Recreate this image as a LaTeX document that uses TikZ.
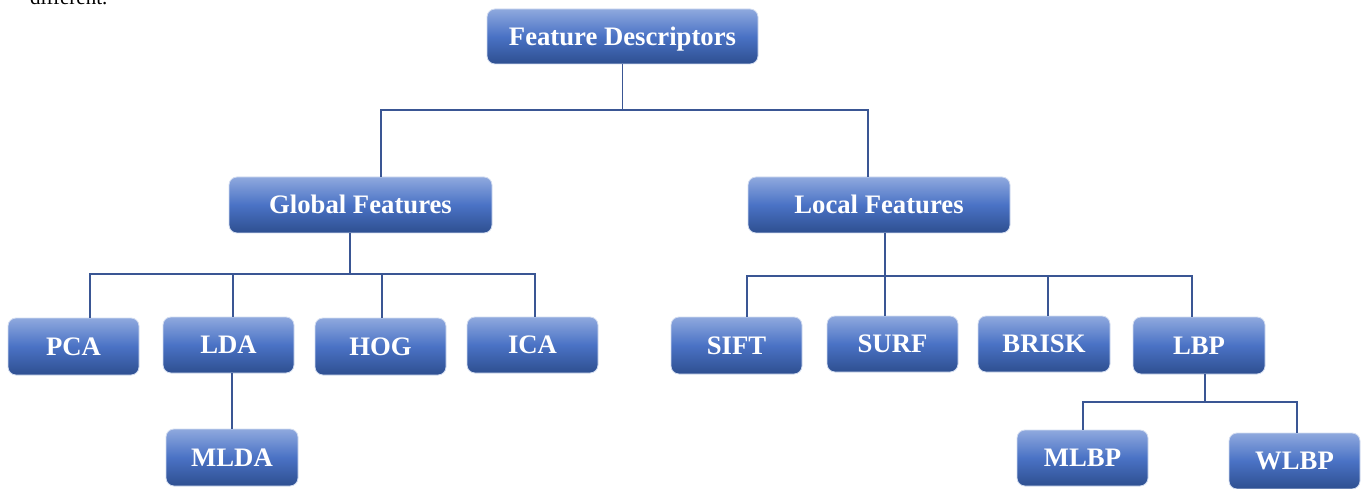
\documentclass[tikz,border=0pt]{standalone}
\usepackage{fontspec}
\setmainfont{Liberation Serif}
\begin{document}
\begin{tikzpicture}[x=1pt,y=-1pt,
  box/.style={rounded corners=8pt, draw=boxedge, line width=0.8pt,
    top color=boxtop, bottom color=boxbot, middle color=boxmid,
    minimum width=131pt, minimum height=56pt, inner sep=0pt,
    text=white, font=\fontsize{26.7}{31}\selectfont\bfseries,
    text height=17.6pt, text depth=0pt, anchor=center},
  conn/.style={draw=linecol, line width=1.5pt}]
\definecolor{boxtop}{HTML}{8FA9DE}
\definecolor{boxmid}{HTML}{4A72C5}
\definecolor{boxbot}{HTML}{2E4F90}
\definecolor{boxedge}{HTML}{D2DCF0}
\definecolor{linecol}{HTML}{3A5694}
\useasboundingbox (0,0) rectangle (1363,489);
\node[anchor=base west, inner sep=0pt, font=\fontsize{21}{25}\selectfont] (txt) at (30,5) {different.};

\node[box, minimum width=271pt, minimum height=55pt] (FD) at (622.5,36.5) {Feature Descriptors};
\node[box, minimum width=263pt] (GF) at (360.5,205) {Global Features};
\node[box, minimum width=262pt] (LF) at (879,205) {Local Features};

\node[box, minimum height=57pt] (PCA) at (73.5,346.5) {PCA};
\node[box] (LDA) at (228.5,345) {LDA};
\node[box, minimum height=57pt] (HOG) at (380.5,346.5) {HOG};
\node[box] (ICA) at (532.5,345) {ICA};
\node[box, minimum width=132pt, minimum height=57pt] (MLDA) at (232,457.5) {MLDA};

\node[box, minimum height=57pt] (SIFT) at (736.5,345.5) {SIFT};
\node[box] (SURF) at (892.5,344) {SURF};
\node[box, minimum width=132pt] (BRISK) at (1044,344) {BRISK};
\node[box, minimum width=132pt, minimum height=57pt] (LBP) at (1199,345.5) {LBP};
\node[box] (MLBP) at (1082.5,458) {MLBP};
\node[box] (WLBP) at (1294.5,461) {WLBP};

\coordinate (j0) at (622.5,110);
\coordinate (j1) at (350,274);
\coordinate (j2) at (885,276);
\coordinate (j3) at (1205,402);

\draw[conn] (FD.south) -- (j0);
\draw[conn] ([xshift=20.5pt]GF.north) |- (j0) -| ([xshift=-11pt]LF.north);

\draw[conn] ([xshift=-10.5pt]GF.south) -- (j1);
\draw[conn] ([xshift=16.5pt]PCA.north) |- (j1) -| ([xshift=2.5pt]ICA.north);
\draw[conn] ([xshift=4.5pt]LDA.north) |- (j1);
\draw[conn] ([xshift=1.5pt]HOG.north) |- (j1);
\draw[conn] (MLDA.north) -- (MLDA.north |- LDA.south);

\draw[conn] ([xshift=6pt]LF.south) -- ([xshift=-7.5pt]SURF.north);
\draw[conn] ([xshift=10.5pt]SIFT.north) |- (j2) -| ([xshift=-7pt]LBP.north);
\draw[conn] ([xshift=4pt]BRISK.north) |- (j2);

\draw[conn] ([xshift=6pt]LBP.south) -- (j3);
\draw[conn] ([xshift=0.5pt]MLBP.north) |- (j3) -| ([xshift=2.5pt]WLBP.north);
\end{tikzpicture}
\end{document}
